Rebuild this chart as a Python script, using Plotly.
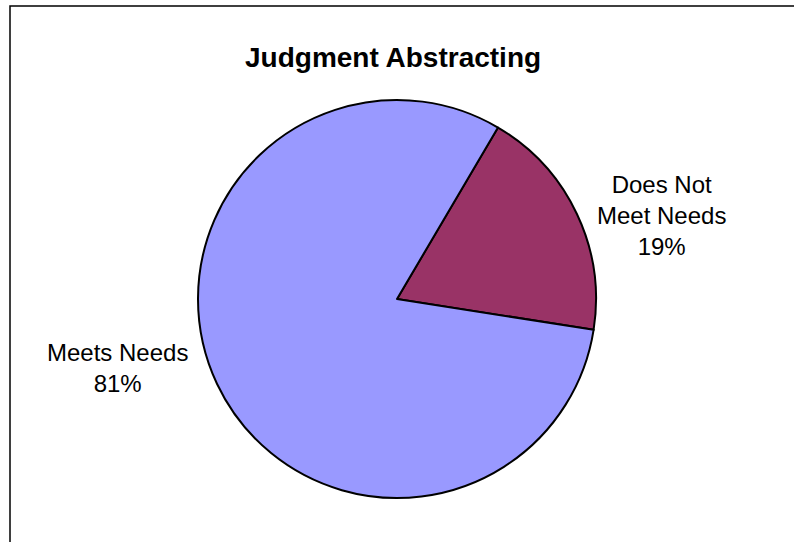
import plotly.graph_objects as go

# Survey result for judgment abstracting
title_text = "Judgment Abstracting"
categories = ["Does Not Meet Needs", "Meets Needs"]
percentages = [19, 81]
slice_colors = ["#993366", "#9999FF"]

W, H = 794, 542
FONT = "Liberation Sans, Arial, sans-serif"


def px(x):
    return x / W


def py(y):
    return 1 - y / H


def wrap(label):
    # break the long category name over two lines
    return "Does Not<br>Meet Needs" if label == "Does Not Meet Needs" else label


cx, cy, r = 397, 299, 199

fig = go.Figure(
    go.Pie(
        labels=categories,
        values=percentages,
        sort=False,
        direction="clockwise",
        rotation=30.5,
        marker=dict(colors=slice_colors, line=dict(color="black", width=2)),
        textinfo="none",
        hoverinfo="label+percent",
        domain=dict(x=[px(cx - r), px(cx + r)], y=[py(cy + r), py(cy - r)]),
        showlegend=False,
    )
)

# outside data labels
label_pos = {"Does Not Meet Needs": (661, 216), "Meets Needs": (117, 368)}
annotations = []
for cat, pct in zip(categories, percentages):
    x, y = label_pos[cat]
    annotations.append(
        dict(
            x=px(x), y=py(y), xref="paper", yref="paper",
            text=f"{wrap(cat)}<br>{pct}%",
            showarrow=False, xanchor="center", yanchor="middle", align="center",
            font=dict(family=FONT, size=24, color="black"),
        )
    )

annotations.append(
    dict(
        x=px(393), y=py(57), xref="paper", yref="paper",
        text=f"<b>{title_text}</b>", showarrow=False,
        xanchor="center", yanchor="middle",
        font=dict(family=FONT, size=28, color="black"),
    )
)

fig.update_layout(
    width=W, height=H,
    margin=dict(l=0, r=0, t=0, b=0),
    paper_bgcolor="white",
    plot_bgcolor="white",
    annotations=annotations,
    shapes=[
        dict(
            type="rect", xref="paper", yref="paper",
            x0=px(10), y0=py(H + 10), x1=px(W + 10), y1=py(6),
            line=dict(color="black", width=1.5), fillcolor="rgba(0,0,0,0)",
        )
    ],
)

fig.write_html("out.html")
